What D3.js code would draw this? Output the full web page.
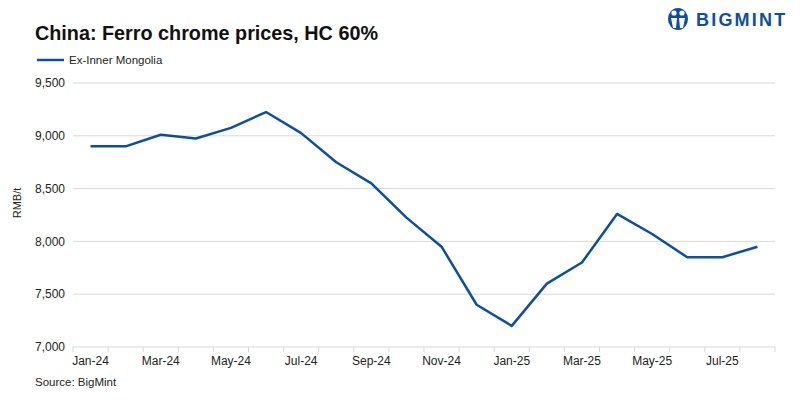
<!DOCTYPE html>
<html>
<head>
<meta charset="utf-8">
<script src="https://cdn.jsdelivr.net/npm/d3@7"></script>
<style>
  body { margin: 0; background: #fff; }
  svg { display: block; font-family: "Liberation Sans", Arial, sans-serif; }
</style>
</head>
<body>
<div id="chart"></div>
<script>
// months shown on the x axis
const months = ["Jan-24", "Feb-24", "Mar-24", "Apr-24", "May-24", "Jun-24", "Jul-24", "Aug-24",
  "Sep-24", "Oct-24", "Nov-24", "Dec-24", "Jan-25", "Feb-25", "Mar-25", "Apr-25",
  "May-25", "Jun-25", "Jul-25", "Aug-25"];
// Ex-Inner Mongolia, RMB/t
const prices = [8900, 8900, 9010, 8975, 9075, 9225, 9025, 8750, 8550, 8225, 7950,
  7400, 7200, 7600, 7800, 8260, 8070, 7850, 7850, 7950];
const yTicks = [7000, 7500, 8000, 8500, 9000, 9500];
const seriesName = "Ex-Inner Mongolia";

const width = 800, height = 399;
const margin = { top: 83, right: 25, bottom: 52, left: 73 };
const blue = "#0b4ea2";

const svg = d3.select("#chart").append("svg")
  .attr("width", width)
  .attr("height", height);

const x = d3.scaleBand()
  .domain(months)
  .range([margin.left, width - margin.right]);

const y = d3.scaleLinear()
  .domain([7000, 9500])
  .range([height - margin.bottom, margin.top]);

// gridlines
svg.append("g")
  .selectAll("line")
  .data(yTicks.slice(1))
  .join("line")
  .attr("x1", margin.left)
  .attr("x2", width - margin.right)
  .attr("y1", d => y(d))
  .attr("y2", d => y(d))
  .attr("stroke", "#d9d9d9")
  .attr("stroke-width", 1);

// y axis labels
svg.append("g")
  .selectAll("text")
  .data(yTicks)
  .join("text")
  .attr("x", margin.left - 8)
  .attr("y", d => y(d))
  .attr("dy", "0.35em")
  .attr("text-anchor", "end")
  .attr("font-size", 12)
  .attr("fill", "#222")
  .text(d3.format(","));

// x axis line + ticks between categories
const xAxis = svg.append("g");
xAxis.append("line")
  .attr("x1", margin.left)
  .attr("x2", width - margin.right)
  .attr("y1", y(7000))
  .attr("y2", y(7000))
  .attr("stroke", "#d9d9d9");
xAxis.selectAll("line.tick")
  .data(months.concat(["end"]))
  .join("line")
  .attr("class", "tick")
  .attr("x1", (d, i) => margin.left + i * x.bandwidth())
  .attr("x2", (d, i) => margin.left + i * x.bandwidth())
  .attr("y1", y(7000))
  .attr("y2", y(7000) + 5)
  .attr("stroke", "#d9d9d9");
xAxis.selectAll("text")
  .data(months.filter((d, i) => i % 2 === 0))
  .join("text")
  .attr("x", d => x(d) + x.bandwidth() / 2)
  .attr("y", y(7000) + 18)
  .attr("text-anchor", "middle")
  .attr("font-size", 12)
  .attr("fill", "#222")
  .text(d => d);

// axis title
svg.append("text")
  .attr("transform", `translate(21,${(y(7000) + y(9500)) / 2 - 12}) rotate(-90)`)
  .attr("text-anchor", "middle")
  .attr("font-size", 11)
  .attr("fill", "#222")
  .text("RMB/t");

// the line
const line = d3.line()
  .x((d, i) => x(months[i]) + x.bandwidth() / 2)
  .y(d => y(d));

svg.append("path")
  .datum(prices)
  .attr("fill", "none")
  .attr("stroke", blue)
  .attr("stroke-width", 2.5)
  .attr("stroke-linejoin", "round")
  .attr("d", line);

// title
svg.append("text")
  .attr("x", 35)
  .attr("y", 40)
  .attr("font-size", 19.8)
  .attr("font-weight", "bold")
  .attr("fill", "#111")
  .text("China: Ferro chrome prices, HC 60%");

// legend
svg.append("line")
  .attr("x1", 37).attr("x2", 64)
  .attr("y1", 60).attr("y2", 60)
  .attr("stroke", blue)
  .attr("stroke-width", 2.5);
svg.append("text")
  .attr("x", 69)
  .attr("y", 64)
  .attr("font-size", 11.5)
  .attr("fill", "#222")
  .text(seriesName);

// source
svg.append("text")
  .attr("x", 35)
  .attr("y", 386)
  .attr("font-size", 11.5)
  .attr("fill", "#222")
  .text("Source: BigMint");

// logo
const logo = svg.append("g").attr("transform", "translate(678,19)");
logo.append("ellipse").attr("rx", 10).attr("ry", 11).attr("fill", blue);
logo.append("circle").attr("cx", -4).attr("cy", -6).attr("r", 2.6).attr("fill", "#fff");
logo.append("circle").attr("cx", 4).attr("cy", -6).attr("r", 2.6).attr("fill", "#fff");
logo.append("path").attr("d", "M-7,-1 L-1,-1 L-2,9 L-5,9 Z").attr("fill", "#fff");
logo.append("path").attr("d", "M7,-1 L1,-1 L2,9 L5,9 Z").attr("fill", "#fff");
svg.append("text")
  .attr("x", 696)
  .attr("y", 26)
  .attr("font-size", 18)
  .attr("font-weight", "bold")
  .attr("letter-spacing", 2.2)
  .attr("fill", blue)
  .text("BIGMINT");
</script>
</body>
</html>
